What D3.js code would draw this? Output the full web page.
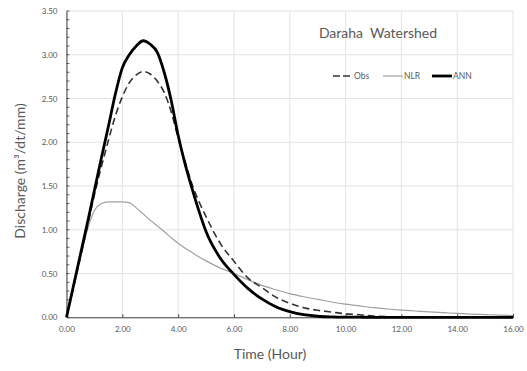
<!DOCTYPE html>
<html>
<head>
<meta charset="utf-8">
<script src="https://cdn.jsdelivr.net/npm/d3@7"></script>
<style>
  body { margin: 0; background: #fff; }
  text { font-family: Lato, "Open Sans", sans-serif; fill: #595959; white-space: pre; }
</style>
</head>
<body>
<svg width="527" height="371"></svg>
<script>
let time = [0, 0.25, 0.5, 0.75, 1, 1.25, 1.5, 1.75, 2, 2.25, 2.5, 2.75, 3, 3.25, 3.5, 3.75, 4, 4.25, 4.5, 4.75, 5,
  5.5, 6, 6.5, 7, 7.5, 8, 8.5, 9, 9.5, 10, 10.5, 11, 11.5, 12, 12.5, 13, 13.5, 14, 14.5, 15, 15.5, 16];

let obs = [0, 0.34, 0.69, 1.04, 1.40, 1.72, 2.02, 2.30, 2.52, 2.68, 2.77, 2.81, 2.78, 2.70, 2.57, 2.35, 2.05, 1.78, 1.52, 1.32, 1.15,
  0.85, 0.64, 0.45, 0.34, 0.23, 0.16, 0.11, 0.08, 0.06, 0.04, 0.03, 0.015, 0.008, 0.003, 0, 0, 0, 0, 0, 0, 0, 0];

let nlr = [0, 0.34, 0.68, 1.0, 1.22, 1.30, 1.32, 1.32, 1.32, 1.31, 1.25, 1.18, 1.11, 1.045, 0.98, 0.91, 0.845, 0.79, 0.74, 0.69, 0.645,
  0.565, 0.50, 0.43, 0.365, 0.315, 0.27, 0.235, 0.205, 0.175, 0.15, 0.13, 0.11, 0.095, 0.082, 0.072, 0.062, 0.053, 0.045, 0.037, 0.031, 0.025, 0.02];

let ann = [0, 0.36, 0.72, 1.08, 1.45, 1.82, 2.18, 2.55, 2.85, 3.0, 3.1, 3.16, 3.12, 3.03, 2.80, 2.48, 2.08, 1.75, 1.47, 1.21, 0.98,
  0.68, 0.49, 0.33, 0.21, 0.12, 0.065, 0.03, 0.012, 0.005, 0.002, 0.001, 0, 0, 0, 0, 0, 0, 0, 0, 0, 0, 0];

let xTicks = [0, 2, 4, 6, 8, 10, 12, 14, 16];
let yTicks = [0, 0.5, 1, 1.5, 2, 2.5, 3, 3.5];

let svg = d3.select("svg");
let mLeft = 66.5, mRight = 513, mTop = 11, mBottom = 317.3;

let x = d3.scaleLinear().domain([0, 16]).range([mLeft, mRight]);
let y = d3.scaleLinear().domain([0, 3.5]).range([mBottom, mTop]);

//grid
svg.append("g")
  .selectAll("line")
  .data(yTicks)
  .enter()
  .append("line")
  .attr("x1", mLeft).attr("x2", mRight)
  .attr("y1", d => y(d)).attr("y2", d => y(d))
  .attr("stroke", "#e4e4e4").attr("stroke-width", 1);

svg.append("g")
  .selectAll("line")
  .data(xTicks)
  .enter()
  .append("line")
  .attr("x1", d => x(d)).attr("x2", d => x(d))
  .attr("y1", mTop).attr("y2", mBottom)
  .attr("stroke", "#e4e4e4").attr("stroke-width", 1);

//axes
let yAxis = svg.append("g")
  .attr("transform", "translate(" + mLeft + ",0)")
  .call(d3.axisLeft(y).tickValues(yTicks).tickFormat(d3.format(".2f")).tickSize(0).tickPadding(9));
yAxis.select(".domain").attr("stroke", "#404040");
yAxis.selectAll("text").style("font-size", "8px").attr("fill", "#595959");

// minor ticks every 0.1
svg.append("g")
  .selectAll("line")
  .data(d3.range(0, 36).map(i => i / 10))
  .enter()
  .append("line")
  .attr("x1", mLeft).attr("x2", mLeft + 3)
  .attr("y1", d => y(d)).attr("y2", d => y(d))
  .attr("stroke", "#404040").attr("stroke-width", 0.8);

let xAxis = svg.append("g")
  .attr("transform", "translate(0," + mBottom + ")")
  .call(d3.axisBottom(x).tickValues(xTicks).tickFormat(d3.format(".2f")).tickSize(-3).tickPadding(9));
xAxis.select(".domain").attr("stroke", "#404040");
xAxis.selectAll("line").attr("stroke", "#404040");
xAxis.selectAll("text").style("font-size", "8px").attr("fill", "#595959");

//lines
let line = vals => d3.line().curve(d3.curveMonotoneX).x((d, i) => x(time[i])).y(d => y(d))(vals);

svg.append("path").attr("d", line(nlr))
  .attr("fill", "none").attr("stroke", "#a0a0a0").attr("stroke-width", 1.2);
svg.append("path").attr("d", line(obs))
  .attr("fill", "none").attr("stroke", "#333").attr("stroke-width", 1.6)
  .attr("stroke-dasharray", "7,4");
svg.append("path").attr("d", line(ann))
  .attr("fill", "none").attr("stroke", "#000").attr("stroke-width", 2.8)
  .attr("stroke-linejoin", "round");

//titles
svg.append("text").attr("x", 378).attr("y", 38)
  .attr("text-anchor", "middle").style("font-size", "14px")
  .text("Daraha  Watershed");

svg.append("text").attr("x", 270).attr("y", 359)
  .attr("text-anchor", "middle").style("font-size", "14px")
  .text("Time (Hour)");

svg.append("text")
  .attr("transform", "translate(25,171) rotate(-90)")
  .attr("text-anchor", "middle").style("font-size", "14px")
  .text("Discharge (m\u00b3/dt/mm)");

//legend
let legend = [
  { name: "Obs", color: "#333", w: 1.6, dash: "7,3", x0: 333 },
  { name: "NLR", color: "#a0a0a0", w: 1.2, dash: null, x0: 383 },
  { name: "ANN", color: "#000", w: 2.8, dash: null, x0: 432 }
];
let lg = svg.append("g").selectAll("g").data(legend).enter().append("g");
lg.append("line")
  .attr("x1", d => d.x0).attr("x2", d => d.x0 + 20)
  .attr("y1", 76).attr("y2", 76)
  .attr("stroke", d => d.color).attr("stroke-width", d => d.w)
  .attr("stroke-dasharray", d => d.dash);
lg.append("text")
  .attr("x", d => d.x0 + 21).attr("y", 79)
  .style("font-size", "8.5px")
  .text(d => d.name);
</script>
</body>
</html>
